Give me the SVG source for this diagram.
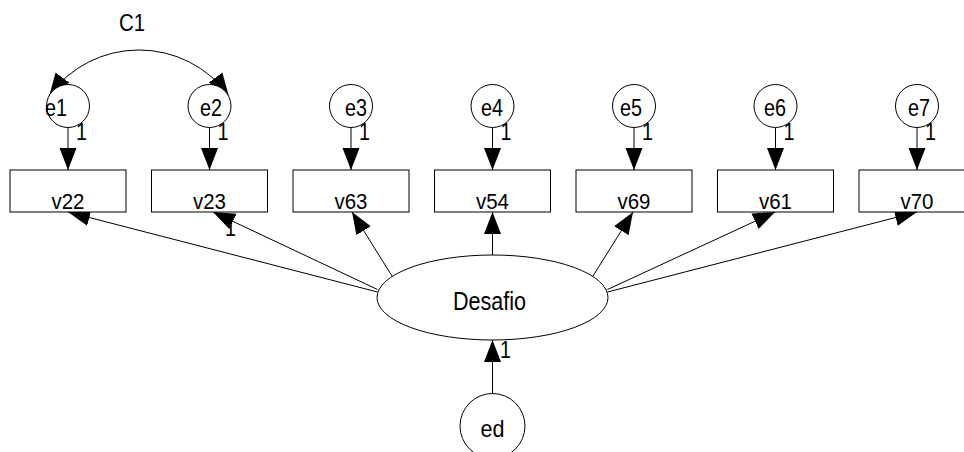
<svg xmlns="http://www.w3.org/2000/svg" width="964" height="452" viewBox="0 0 964 452">
<style>
.shape{fill:#fff;stroke:#000;stroke-width:1}
.lbl{font-family:"Liberation Sans",Arial,sans-serif;fill:#000;text-anchor:middle}
.box{font-size:22px}
.err{font-size:24px}
.one{font-family:"Liberation Sans",Arial,sans-serif;fill:#000;font-size:24px}
.edge{fill:none;stroke:#000;stroke-width:1;marker-end:url(#ah)}
</style>
<defs>
<marker id="ah" markerUnits="userSpaceOnUse" markerWidth="22" markerHeight="18" refX="22" refY="9" orient="auto">
<path d="M0,0.5 L22,9 L0,17.5 z" fill="#000"/>
</marker>
<marker id="ah2" markerUnits="userSpaceOnUse" markerWidth="22" markerHeight="18" refX="22" refY="9" orient="auto-start-reverse">
<path d="M0,0.5 L22,9 L0,17.5 z" fill="#000"/>
</marker>
</defs>
<rect width="964" height="452" fill="#fff"/>
<g id="connectors">
<path class="edge" d="M68,127.5 V170"/>
<path class="edge" d="M209.5,127.5 V170"/>
<path class="edge" d="M351,127.5 V170"/>
<path class="edge" d="M492.5,127.5 V170"/>
<path class="edge" d="M634,127.5 V170"/>
<path class="edge" d="M775.5,127.5 V170"/>
<path class="edge" d="M917,127.5 V170"/>
<path class="edge" d="M377.5,292 L68,212"/>
<path class="edge" d="M377.5,289.5 L213,212"/>
<path class="edge" d="M392,276 L352,212"/>
<path class="edge" d="M492.5,255 L492.5,212"/>
<path class="edge" d="M593,276 L633,212"/>
<path class="edge" d="M607.5,289.5 L775,212"/>
<path class="edge" d="M607.5,292 L917,212"/>
<path class="edge" d="M492.5,393.5 L492.5,340"/>
<path d="M49.4,95.25 A111.3,111.3 0 0 1 228.6,95.25" fill="none" stroke="#000" stroke-width="1" marker-start="url(#ah2)" marker-end="url(#ah2)"/>
<text class="lbl err" x="132" y="31" textLength="26" lengthAdjust="spacingAndGlyphs">C1</text>
<text class="one" x="76" y="140" textLength="11" lengthAdjust="spacingAndGlyphs">1</text>
<text class="one" x="217.5" y="140" textLength="11" lengthAdjust="spacingAndGlyphs">1</text>
<text class="one" x="359" y="140" textLength="11" lengthAdjust="spacingAndGlyphs">1</text>
<text class="one" x="500.5" y="140" textLength="11" lengthAdjust="spacingAndGlyphs">1</text>
<text class="one" x="642" y="140" textLength="11" lengthAdjust="spacingAndGlyphs">1</text>
<text class="one" x="783.5" y="140" textLength="11" lengthAdjust="spacingAndGlyphs">1</text>
<text class="one" x="925" y="140" textLength="11" lengthAdjust="spacingAndGlyphs">1</text>
<text class="one" x="225" y="236" textLength="11" lengthAdjust="spacingAndGlyphs">1</text>
<text class="one" x="500" y="358" textLength="11" lengthAdjust="spacingAndGlyphs">1</text>
</g>
<g id="e1"><circle class="shape" cx="68" cy="106" r="21.5"/><text class="lbl err" x="56" y="116" textLength="22" lengthAdjust="spacingAndGlyphs">e1</text></g>
<g id="e2"><circle class="shape" cx="209.5" cy="106" r="21.5"/><text class="lbl err" x="211" y="116" textLength="22" lengthAdjust="spacingAndGlyphs">e2</text></g>
<g id="e3"><circle class="shape" cx="351" cy="106" r="21.5"/><text class="lbl err" x="356" y="116" textLength="22" lengthAdjust="spacingAndGlyphs">e3</text></g>
<g id="e4"><circle class="shape" cx="492.5" cy="106" r="21.5"/><text class="lbl err" x="492" y="116" textLength="22" lengthAdjust="spacingAndGlyphs">e4</text></g>
<g id="e5"><circle class="shape" cx="634" cy="106" r="21.5"/><text class="lbl err" x="631" y="116" textLength="22" lengthAdjust="spacingAndGlyphs">e5</text></g>
<g id="e6"><circle class="shape" cx="775.5" cy="106" r="21.5"/><text class="lbl err" x="775" y="116" textLength="22" lengthAdjust="spacingAndGlyphs">e6</text></g>
<g id="e7"><circle class="shape" cx="917" cy="106" r="21.5"/><text class="lbl err" x="919" y="116" textLength="22" lengthAdjust="spacingAndGlyphs">e7</text></g>
<g id="v22"><rect class="shape" x="10" y="170" width="116" height="42"/><text class="lbl box" x="68" y="209" textLength="33" lengthAdjust="spacingAndGlyphs">v22</text></g>
<g id="v23"><rect class="shape" x="151.5" y="170" width="116" height="42"/><text class="lbl box" x="209.5" y="209" textLength="33" lengthAdjust="spacingAndGlyphs">v23</text></g>
<g id="v63"><rect class="shape" x="293" y="170" width="116" height="42"/><text class="lbl box" x="351" y="209" textLength="33" lengthAdjust="spacingAndGlyphs">v63</text></g>
<g id="v54"><rect class="shape" x="434.5" y="170" width="116" height="42"/><text class="lbl box" x="492.5" y="209" textLength="33" lengthAdjust="spacingAndGlyphs">v54</text></g>
<g id="v69"><rect class="shape" x="576" y="170" width="116" height="42"/><text class="lbl box" x="634" y="209" textLength="33" lengthAdjust="spacingAndGlyphs">v69</text></g>
<g id="v61"><rect class="shape" x="717.5" y="170" width="116" height="42"/><text class="lbl box" x="775.5" y="209" textLength="33" lengthAdjust="spacingAndGlyphs">v61</text></g>
<g id="v70"><rect class="shape" x="859" y="170" width="116" height="42"/><text class="lbl box" x="917" y="209" textLength="33" lengthAdjust="spacingAndGlyphs">v70</text></g>
<g id="Desafio"><ellipse class="shape" cx="492.5" cy="297.5" rx="115.5" ry="42.5"/><text class="lbl" style="font-size:26px" x="489.5" y="310" textLength="73" lengthAdjust="spacingAndGlyphs">Desafio</text></g>
<g id="ed"><circle class="shape" cx="492.5" cy="426" r="32.5"/><text class="lbl err" x="492.5" y="437" textLength="24" lengthAdjust="spacingAndGlyphs">ed</text></g>
</svg>
